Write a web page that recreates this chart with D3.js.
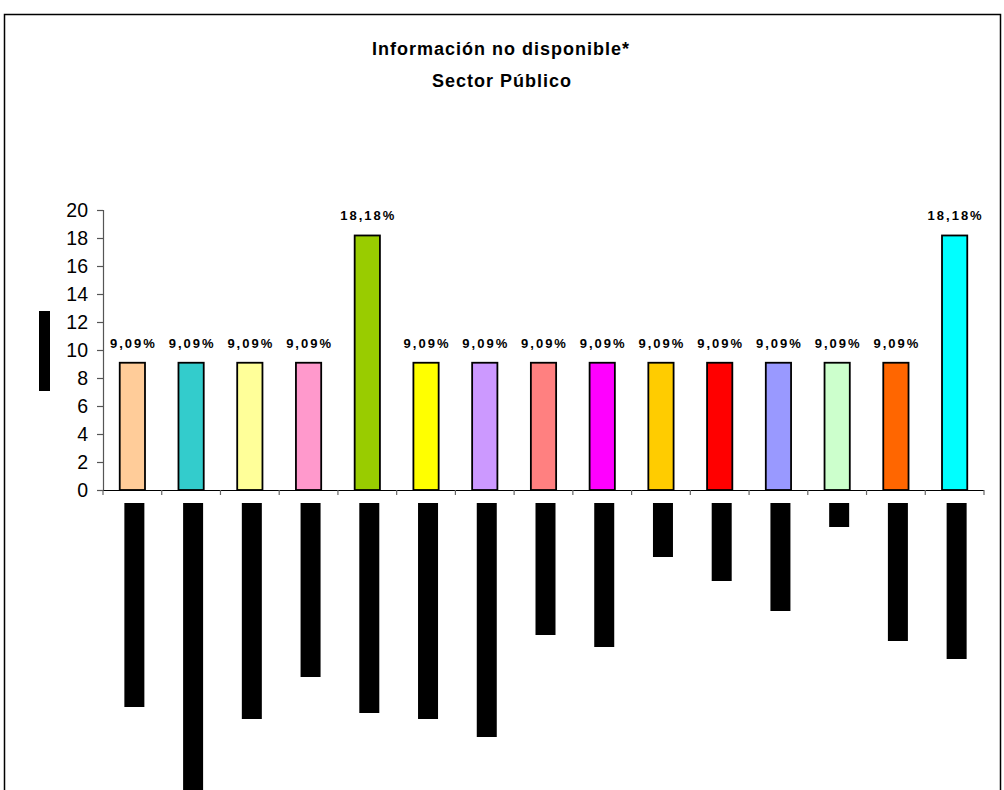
<!DOCTYPE html>
<html>
<head>
<meta charset="utf-8">
<script src="https://cdn.jsdelivr.net/npm/d3@7"></script>
<style>
  html, body { margin: 0; padding: 0; background: #fff; }
  svg { display: block; font-family: Arial, "Liberation Sans", sans-serif; }
</style>
</head>
<body>
<svg id="chart" width="1004" height="790"></svg>
<script>
// Percentage of entities with unavailable information, by category
const categories = ["c1","c2","c3","c4","c5","c6","c7","c8","c9","c10","c11","c12","c13","c14","c15"];
const values = [9.09, 9.09, 9.09, 9.09, 18.18, 9.09, 9.09, 9.09, 9.09, 9.09, 9.09, 9.09, 9.09, 9.09, 18.18];
const valueLabels = ["9,09%","9,09%","9,09%","9,09%","18,18%","9,09%","9,09%","9,09%","9,09%","9,09%","9,09%","9,09%","9,09%","9,09%","18,18%"];
const barColors = ["#FFCC99","#33CCCC","#FFFF99","#FF99CC","#99CC00","#FFFF00","#CC99FF","#FF8080","#FF00FF","#FFCC00","#FF0000","#9999FF","#CCFFCC","#FF6600","#00FFFF"];
// Character counts of the masked category names (drawn as solid blocks)
const maskedNameLengths = [34, 50, 36, 29, 35, 36, 39, 22, 24, 9, 13, 18, 4, 23, 26];
const yTicks = [0, 2, 4, 6, 8, 10, 12, 14, 16, 18, 20];

const svg = d3.select("#chart");
const W = 1004, H = 790;

// Outer frame
svg.append("rect")
  .attr("x", 4.5).attr("y", 14.5)
  .attr("width", 996).attr("height", H)
  .attr("fill", "none").attr("stroke", "#000").attr("stroke-width", 1.5);

// Title
const title = svg.append("text")
  .attr("text-anchor", "middle")
  .attr("font-weight", "bold")
  .attr("font-size", 18)
  .attr("letter-spacing", 1)
  .attr("fill", "#000");
title.append("tspan").attr("x", 501).attr("y", 55).text("Información no disponible*");
title.append("tspan").attr("x", 502).attr("y", 87).text("Sector Público");

const plot = { left: 103, right: 984, top: 210, bottom: 490 };

const x = d3.scaleBand()
  .domain(categories)
  .range([plot.left, plot.right])
  .paddingInner(0.57)
  .paddingOuter(0.285);

const y = d3.scaleLinear()
  .domain([0, 20])
  .range([plot.bottom, plot.top]);

// Y axis
const yAxis = svg.append("g")
  .attr("transform", `translate(${plot.left},0)`)
  .call(d3.axisLeft(y).tickValues(yTicks).tickSize(6).tickPadding(9).tickFormat(d3.format("d")));
yAxis.select(".domain").attr("stroke", "#555").attr("stroke-width", 1.2);
yAxis.selectAll(".tick line").attr("stroke", "#555").attr("stroke-width", 1.2);
yAxis.selectAll(".tick text")
  .attr("font-size", 19.5)
  .attr("font-family", "Arial, 'Liberation Sans', sans-serif")
  .attr("fill", "#000");

// Masked y-axis title
svg.append("rect")
  .attr("x", 39).attr("y", 311)
  .attr("width", 11).attr("height", 80)
  .attr("fill", "#000");

// X axis with ticks between categories
const step = x.step();
const boundaries = d3.range(categories.length + 1).map(i => plot.left + i * step);
const xg = svg.append("g");
xg.append("line")
  .attr("x1", plot.left).attr("x2", plot.right)
  .attr("y1", plot.bottom + 0.5).attr("y2", plot.bottom + 0.5)
  .attr("stroke", "#000").attr("stroke-width", 1.2);
xg.selectAll("line.tick")
  .data(boundaries)
  .join("line")
  .attr("class", "tick")
  .attr("x1", d => d).attr("x2", d => d)
  .attr("y1", plot.bottom).attr("y2", plot.bottom + 5)
  .attr("stroke", "#666").attr("stroke-width", 1.2);

// Bars
svg.append("g")
  .selectAll("rect")
  .data(categories)
  .join("rect")
  .attr("x", d => x(d))
  .attr("y", (d, i) => y(values[i]))
  .attr("width", x.bandwidth())
  .attr("height", (d, i) => plot.bottom - y(values[i]))
  .attr("fill", (d, i) => barColors[i])
  .attr("stroke", "#000")
  .attr("stroke-width", 1.8);

// Value labels
svg.append("g")
  .selectAll("text")
  .data(categories)
  .join("text")
  .attr("x", d => x(d) + x.bandwidth() / 2 + 1)
  .attr("y", (d, i) => y(values[i]) - 15)
  .attr("text-anchor", "middle")
  .attr("font-size", 13)
  .attr("font-weight", "bold")
  .attr("letter-spacing", 2)
  .attr("fill", "#000")
  .text((d, i) => valueLabels[i]);

// Masked category names below the axis
const charPx = 6;
svg.append("g")
  .selectAll("rect")
  .data(categories)
  .join("rect")
  .attr("x", d => x(d) + x.bandwidth() / 2 - 8)
  .attr("y", 503)
  .attr("width", 20)
  .attr("height", (d, i) => maskedNameLengths[i] * charPx)
  .attr("fill", "#000");
</script>
</body>
</html>
